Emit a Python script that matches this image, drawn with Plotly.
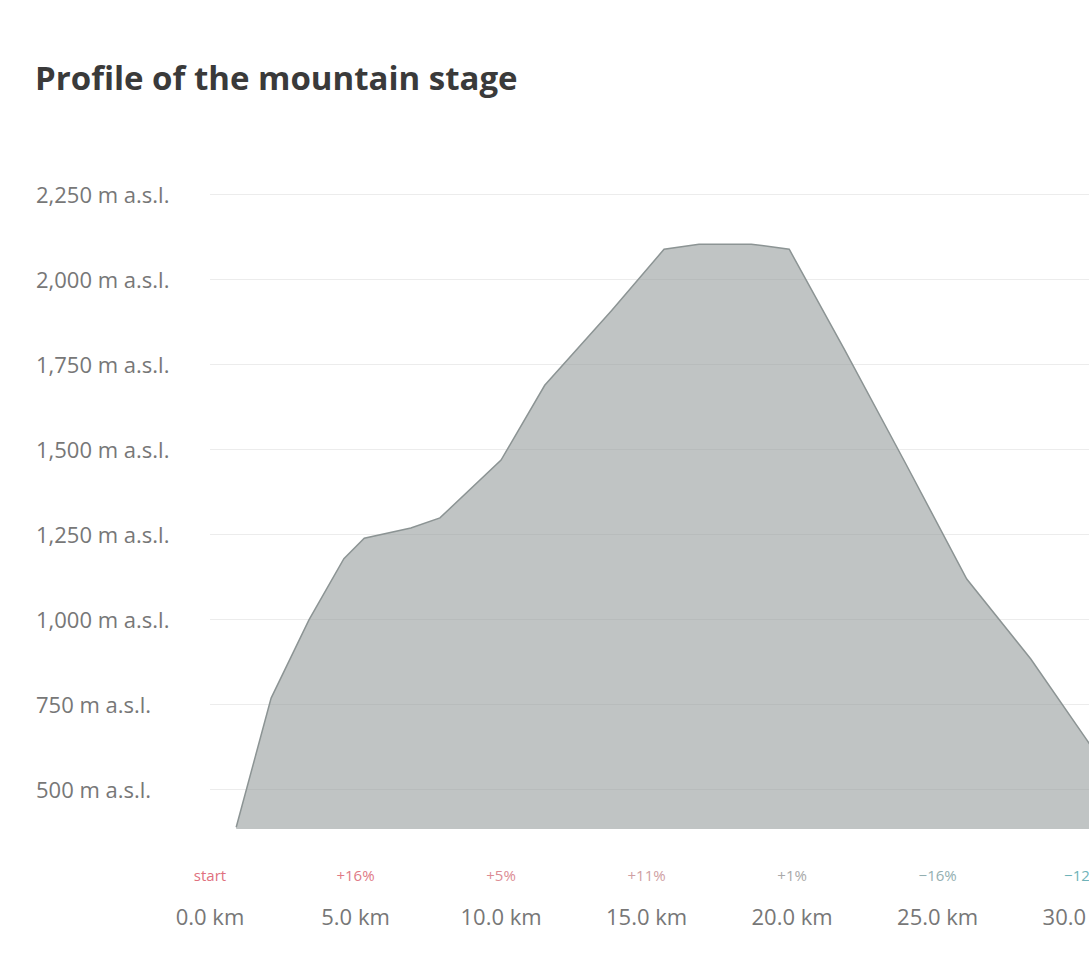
import plotly.graph_objects as go

# ---- data ----
distance_km = [0.9, 2.1, 3.4, 4.6, 5.3, 6.9, 7.9, 10.0, 11.5, 13.8, 15.6, 16.8,
               18.6, 19.9, 21.8, 23.9, 26.0, 28.2, 30.1, 31.3]
elevation_m = [390, 770, 1000, 1180, 1240, 1270, 1300, 1470, 1690, 1910, 2090, 2105,
               2105, 2090, 1795, 1460, 1120, 885, 650, 500]

y_tick_values = [500, 750, 1000, 1250, 1500, 1750, 2000, 2250]
y_tick_labels = ["500 m a.s.l.", "750 m a.s.l.", "1,000 m a.s.l.", "1,250 m a.s.l.",
                 "1,500 m a.s.l.", "1,750 m a.s.l.", "2,000 m a.s.l.", "2,250 m a.s.l."]

x_tick_values = [0, 5, 10, 15, 20, 25, 30]
x_grade_labels = ["start", "+16%", "+5%", "+11%", "+1%", "\u221216%", "\u221212%"]
x_grade_colors = ["#e0707e", "#e07a86", "#dc8c94", "#cfa0a3", "#a9a9a9", "#93afb1", "#6fb3b9"]
x_distance_labels = ["0.0 km", "5.0 km", "10.0 km", "15.0 km", "20.0 km", "25.0 km", "30.0 km"]

title_text = "Profile of the mountain stage"

x_tick_text = [
    f"<span style='font-size:15px;color:{c}'>{g}</span><br>"
    f"<span style='font-size:22px'>{d}</span>"
    for g, c, d in zip(x_grade_labels, x_grade_colors, x_distance_labels)
]

W, H = 1089, 954

fig = go.Figure()
fig.add_trace(go.Scatter(
    x=distance_km,
    y=elevation_m,
    mode="lines",
    fill="tozeroy",
    fillcolor="rgba(150,157,157,0.6)",
    line=dict(color="rgba(140,148,148,1)", width=1.5),
    hoverinfo="x+y",
    showlegend=False,
))

fig.update_layout(
    width=W,
    height=H,
    margin=dict(l=0, r=0, t=185, b=125),
    paper_bgcolor="white",
    plot_bgcolor="white",
    font=dict(family="Open Sans", color="#666666"),
    title=dict(
        text=f"<b>{title_text}</b>",
        x=35 / W,
        xanchor="left",
        xref="container",
        y=1 - 78 / H,
        yanchor="middle",
        font=dict(size=33, color="#3a3a3a", family="Open Sans"),
    ),
    xaxis=dict(
        domain=[210 / W, 1],
        range=[0, 30.2],
        tickvals=x_tick_values,
        ticktext=x_tick_text,
        showgrid=False,
        zeroline=False,
        showline=False,
        ticks="outside",
        ticklen=10,
        tickcolor="rgba(0,0,0,0)",
        tickfont=dict(size=34, color="#777777"),
        ticklabeloverflow="allow",
        automargin=False,
    ),
    yaxis=dict(
        range=[385, 2279],
        tickvals=y_tick_values,
        ticktext=y_tick_labels,
        side="right",
        anchor="free",
        position=35 / W,
        showgrid=True,
        gridcolor="#ececec",
        gridwidth=1,
        zeroline=False,
        showline=False,
        ticks="",
        tickfont=dict(size=22, color="#777777"),
        automargin=False,
    ),
)

fig.write_html(
    "out.html",
    config={"displayModeBar": False},
    post_script="document.body.style.margin='0';document.body.style.overflow='hidden';",
)
